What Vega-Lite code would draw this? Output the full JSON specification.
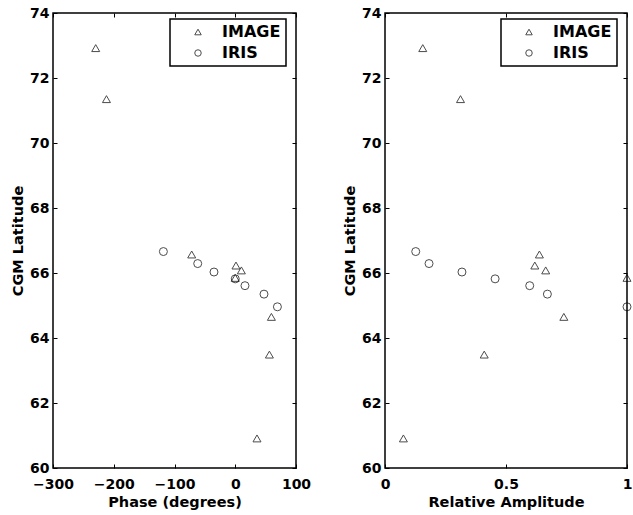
{
  "$schema": "https://vega.github.io/schema/vega-lite/v6.json",
  "padding": {"left": 9, "top": 5, "right": 0, "bottom": 0},
  "spacing": 29,
  "background": "white",
  "datasets": {
    "pts": [
      {"instrument": "IMAGE", "phase": -229.7, "amp": 0.156, "lat": 72.92},
      {"instrument": "IMAGE", "phase": -212.0, "amp": 0.312, "lat": 71.35},
      {"instrument": "IMAGE", "phase": -71.7, "amp": 0.638, "lat": 66.57},
      {"instrument": "IMAGE", "phase": 1.2, "amp": 0.619, "lat": 66.23},
      {"instrument": "IMAGE", "phase": 10.1, "amp": 0.664, "lat": 66.08},
      {"instrument": "IMAGE", "phase": 0.0, "amp": 1.0, "lat": 65.85},
      {"instrument": "IMAGE", "phase": 59.5, "amp": 0.739, "lat": 64.65},
      {"instrument": "IMAGE", "phase": 56.2, "amp": 0.41, "lat": 63.49},
      {"instrument": "IMAGE", "phase": 35.8, "amp": 0.076, "lat": 60.91},
      {"instrument": "IRIS", "phase": -118.3, "amp": 0.127, "lat": 66.66},
      {"instrument": "IRIS", "phase": -61.8, "amp": 0.182, "lat": 66.29},
      {"instrument": "IRIS", "phase": -35.0, "amp": 0.318, "lat": 66.03},
      {"instrument": "IRIS", "phase": 0.0, "amp": 0.455, "lat": 65.82},
      {"instrument": "IRIS", "phase": 16.0, "amp": 0.598, "lat": 65.61},
      {"instrument": "IRIS", "phase": 47.3, "amp": 0.671, "lat": 65.35},
      {"instrument": "IRIS", "phase": 69.4, "amp": 1.0, "lat": 64.96}
    ]
  },
  "hconcat": [
    {
      "width": 243,
      "height": 455,
      "data": {"name": "pts"},
      "layer": [
        {
          "mark": {"type": "point", "filled": false, "stroke": "black", "strokeWidth": 1, "size": 64},
          "encoding": {
            "x": {"field": "phase", "type": "quantitative", "scale": {"domain": [-300, 100], "nice": false, "zero": false},
                  "axis": {"orient": "bottom", "title": "Phase (degrees)", "values": [-300, -200, -100, 0, 100], "labelPadding": 13}},
            "y": {"field": "lat", "type": "quantitative", "scale": {"domain": [60, 74], "nice": false, "zero": false},
                  "axis": {"orient": "left", "title": "CGM Latitude", "values": [60, 62, 64, 66, 68, 70, 72, 74]}},
            "shape": {"field": "instrument", "type": "nominal",
                      "scale": {"domain": ["IMAGE", "IRIS"], "range": ["triangle-up", "circle"]},
                      "legend": {"title": null, "orient": "none", "legendX": 117, "legendY": 6}}
          }
        },
        {
          "mark": {"type": "point", "opacity": 0},
          "encoding": {
            "x": {"field": "phase", "type": "quantitative",
                  "axis": {"orient": "top", "title": null, "labels": false, "values": [-300, -200, -100, 0, 100]}},
            "y": {"field": "lat", "type": "quantitative",
                  "axis": {"orient": "right", "title": null, "labels": false, "values": [60, 62, 64, 66, 68, 70, 72, 74]}}
          }
        }
      ],
      "resolve": {"axis": {"x": "independent", "y": "independent"}}
    },
    {
      "width": 242,
      "height": 455,
      "data": {"name": "pts"},
      "layer": [
        {
          "mark": {"type": "point", "filled": false, "stroke": "black", "strokeWidth": 1, "size": 64},
          "encoding": {
            "x": {"field": "amp", "type": "quantitative", "scale": {"domain": [0, 1], "nice": false},
                  "axis": {"orient": "bottom", "title": "Relative Amplitude", "values": [0, 0.5, 1], "format": "~g", "labelPadding": 13}},
            "y": {"field": "lat", "type": "quantitative", "scale": {"domain": [60, 74], "nice": false, "zero": false},
                  "axis": {"orient": "left", "title": "CGM Latitude", "values": [60, 62, 64, 66, 68, 70, 72, 74]}},
            "shape": {"field": "instrument", "type": "nominal",
                      "scale": {"domain": ["IMAGE", "IRIS"], "range": ["triangle-up", "circle"]},
                      "legend": {"title": null, "orient": "none", "legendX": 116, "legendY": 6}}
          }
        },
        {
          "mark": {"type": "point", "opacity": 0},
          "encoding": {
            "x": {"field": "amp", "type": "quantitative",
                  "axis": {"orient": "top", "title": null, "labels": false, "values": [0, 0.5, 1]}},
            "y": {"field": "lat", "type": "quantitative",
                  "axis": {"orient": "right", "title": null, "labels": false, "values": [60, 62, 64, 66, 68, 70, 72, 74]}}
          }
        }
      ],
      "resolve": {"axis": {"x": "independent", "y": "independent"}}
    }
  ],
  "resolve": {"scale": {"shape": "independent"}, "legend": {"shape": "independent"}},
  "config": {
    "font": "DejaVu Sans",
    "view": {"stroke": "black", "strokeWidth": 1.5},
    "axis": {
      "grid": false,
      "domain": false,
      "ticks": true,
      "tickSize": -4,
      "tickColor": "black",
      "tickWidth": 1,
      "labelPadding": 8,
      "labelFont": "DejaVu Sans",
      "labelFontSize": 14,
      "labelFontWeight": "bold",
      "labelColor": "black",
      "labelFlush": false,
      "labelOverlap": false,
      "titleFont": "DejaVu Sans",
      "titleFontSize": 14.5,
      "titleFontWeight": "bold",
      "titleColor": "black",
      "titlePadding": 4
    },
    "legend": {
      "strokeColor": "black",
      "strokeWidth": 1.5,
      "fillColor": "white",
      "padding": 5,
      "symbolOffset": 15,
      "labelOffset": 16,
      "rowPadding": 5,
      "labelFont": "DejaVu Sans",
      "labelFontSize": 16,
      "labelFontWeight": "bold",
      "labelColor": "black",
      "symbolStrokeColor": "black",
      "symbolStrokeWidth": 1,
      "symbolFillColor": "transparent",
      "symbolSize": 42
    }
  }
}
